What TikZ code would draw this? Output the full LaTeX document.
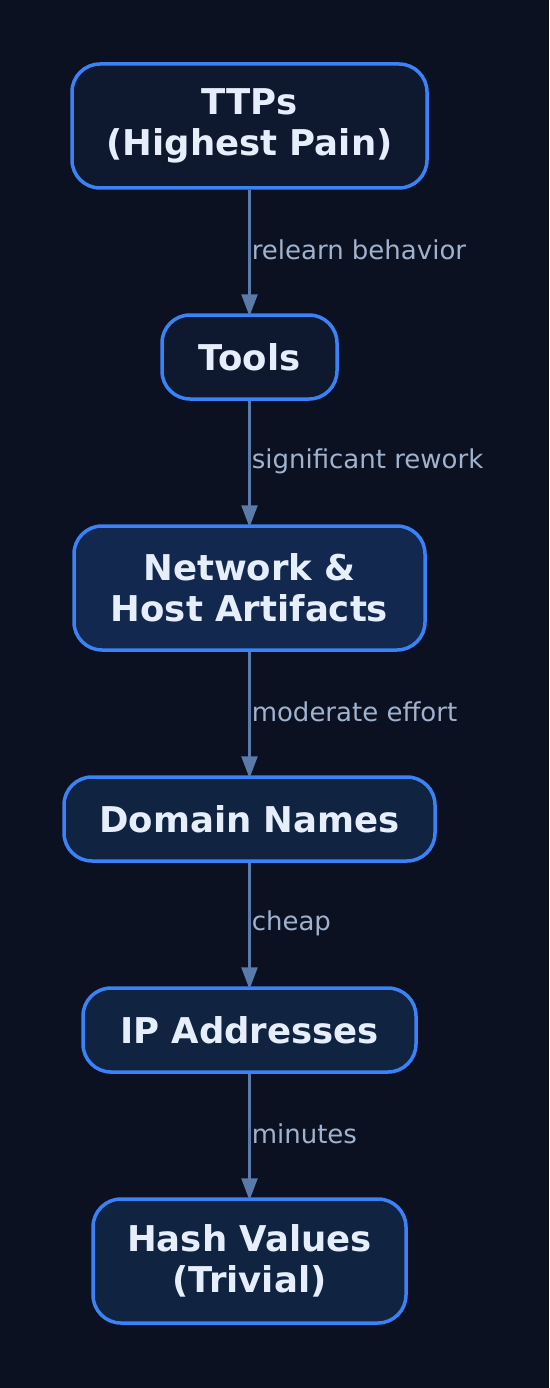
\documentclass[tikz,border=0pt]{standalone}
\usepackage{fontspec}
\setmainfont{DejaVu Sans}
\usetikzlibrary{arrows.meta}
\definecolor{bg}{HTML}{0B1120}
\definecolor{bordc}{HTML}{3B82F6}
\definecolor{fillA}{HTML}{0E1930}
\definecolor{fillB}{HTML}{13284F}
\definecolor{fillC}{HTML}{102442}
\definecolor{txtc}{HTML}{E6EEFC}
\definecolor{edgec}{HTML}{5A7AAA}
\definecolor{lblc}{HTML}{A0B2CE}
\tikzset{
  box/.style={draw=bordc, line width=3.5pt, rounded corners=28pt, text=txtc,
    font=\fontsize{35.5}{41}\selectfont\bfseries, align=center, inner sep=0pt},
  conn/.style={draw=edgec, line width=2.5pt, shorten >=-3pt, -{Triangle[length=22pt,width=16pt]}},
  lbl/.style={text=lblc, font=\fontsize{26}{30}\selectfont, anchor=west, inner sep=0pt, midway, xshift=1pt, yshift=1.5pt}
}
\begin{document}
\begin{tikzpicture}[x=1pt,y=-1pt]
\fill[bg] (0,0) rectangle (549,1388);
\useasboundingbox (0,0) rectangle (549,1388);
\node[box, fill=fillA, minimum width=355pt, minimum height=124pt] (ttp) at (249.5,126) {TTPs\\(Highest Pain)};
\node[box, fill=fillA, minimum width=175pt, minimum height=84pt] (tools) at (249.5,357) {Tools};
\node[box, fill=fillB, minimum width=351pt, minimum height=124pt] (net) at (249.5,588) {Network \&\\Host Artifacts};
\node[box, fill=fillC, minimum width=371pt, minimum height=84pt] (dom) at (249.5,819) {Domain Names};
\node[box, fill=fillC, minimum width=333pt, minimum height=84pt] (ip) at (249.5,1030) {IP Addresses};
\node[box, fill=fillC, minimum width=313pt, minimum height=124pt] (hash) at (249.5,1261) {Hash Values\\(Trivial)};
\draw[conn] (ttp) -- node[lbl] (l1) {relearn behavior} (tools);
\draw[conn] (tools) -- node[lbl] (l2) {significant rework} (net);
\draw[conn] (net) -- node[lbl] (l3) {moderate effort} (dom);
\draw[conn] (dom) -- node[lbl] (l4) {cheap} (ip);
\draw[conn] (ip) -- node[lbl] (l5) {minutes} (hash);
\end{tikzpicture}
\end{document}
